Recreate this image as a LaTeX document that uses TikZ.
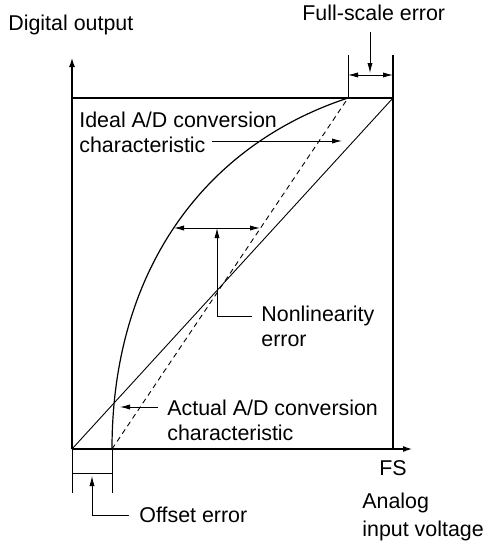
\documentclass[tikz,border=0pt]{standalone}
\usepackage{fontspec}
\setmainfont{Liberation Sans}
\usetikzlibrary{arrows.meta}
\tikzset{
  lbl/.style={inner sep=0pt, align=left, font=\fontsize{10.7}{12.4}\selectfont},
  axis/.style={line width=1.2pt, -{Latex[length=5pt,width=3pt]}},
  frame/.style={line width=0.6pt},
  thinline/.style={line width=0.45pt},
  tip/.style={line width=0.45pt, -{Latex[length=5pt,width=2.6pt]}},
  tips/.style={line width=0.45pt, {Latex[length=5pt,width=2.6pt]}-{Latex[length=5pt,width=2.6pt]}}
}
\begin{document}
\begin{tikzpicture}[x=0.5pt,y=-0.5pt]
    \useasboundingbox (0,0) rectangle (483,541);

    % Points of the graph
    \coordinate (O) at (72,449);
    \coordinate (ytop) at (72,57);
    \coordinate (xend) at (413,449);
    \coordinate (FS) at (393,449);
    \coordinate (FStop) at (393,98);
    \coordinate (FShi) at (393,55);
    \coordinate (Otop) at (72,98);
    \coordinate (off) at (112,449);
    \coordinate (fse) at (348,98);
    \coordinate (fsehi) at (348,55);

    % Axes and frame
    \draw[axis] (O) -- (ytop);
    \draw[axis] (O) -- (xend);
    \draw[frame] (Otop) -- (FStop);
    \draw[frame] (FShi) -- (FS);
    \draw[thinline] (fsehi) -- (fse);

    % Ideal, shifted ideal and actual characteristic
    \draw[thinline] (O) -- (FStop);
    \draw[thinline, dash pattern=on 2.6pt off 2pt] (off) -- (fse);
    \draw[frame] (off) .. controls (112,270) and (205,145) .. (fse);

    % Labels (base = last line)
    \node[lbl, anchor=base west] (dout) at (8,30) {Digital output};
    \node[lbl, anchor=base west] (fserr) at (302,20) {Full-scale error};
    \node[lbl, anchor=base west] (ideal) at (79,152) {Ideal A/D conversion\\characteristic};
    \node[lbl, anchor=base west] (nonlin) at (261,346) {Nonlinearity\\error};
    \node[lbl, anchor=base west] (actual) at (167,440) {Actual A/D conversion\\characteristic};
    \node[lbl, anchor=base] (fs) at (393,475) {FS};
    \node[lbl, anchor=base west] (offerr) at (139,522.7) {Offset error};
    \node[lbl, anchor=base west] (analog) at (362,536.5) {Analog\\[1.5pt]input voltage};

    % Full-scale error
    \coordinate (fsa) at (370,32);
    \coordinate (fsb) at (370,73);
    \draw[tip] (fsa) -- (fsb);
    \draw[tips] (348,75) -- (393,75);

    % Ideal pointer
    \coordinate (ida) at (212,141);
    \coordinate (idb) at (342,141);
    \draw[tip] (ida) -- (idb);

    % Nonlinearity error
    \coordinate (nla) at (174,228);
    \coordinate (nlb) at (260,228);
    \coordinate (nlc) at (252,316);
    \draw[tips] (nla) -- (nlb);
    \draw[tip] (nlc) -| (217,228);

    % Actual pointer
    \coordinate (aca) at (158,407);
    \coordinate (acb) at (120,407);
    \draw[tip] (aca) -- (acb);

    % Offset error
    \draw[thinline] (O) -- (72,493);
    \draw[thinline] (off) -- (112,493);
    \draw[thinline] (72,473) -- (112,473);
    \coordinate (ofa) at (129,515);
    \draw[tip] (ofa) -| (92,476);
\end{tikzpicture}
\end{document}
